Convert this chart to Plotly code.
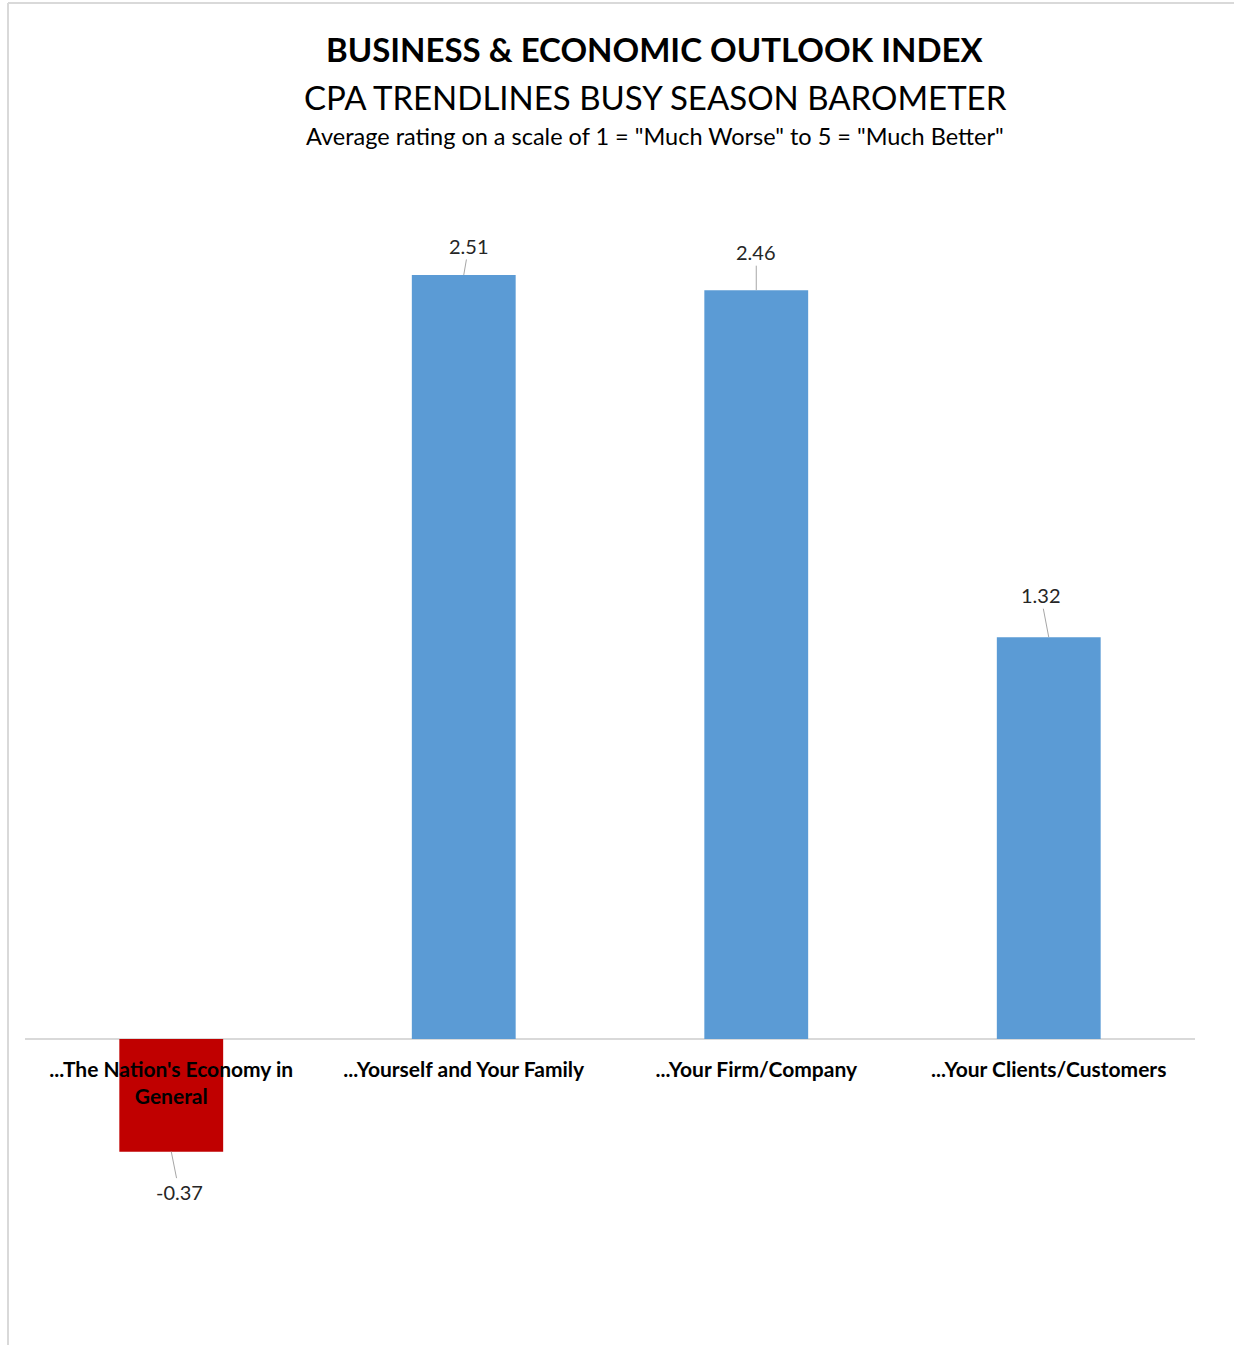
import plotly.graph_objects as go

categories = ["...The Nation's Economy in<br>General", "...Yourself and Your Family",
              "...Your Firm/Company", "...Your Clients/Customers"]
values = [-0.37, 2.51, 2.46, 1.32]
label_text = ["-0.37", "2.51", "2.46", "1.32"]
bar_colors = ["#c00000", "#5b9bd5", "#5b9bd5", "#5b9bd5"]
label_offsets = [(8, 40), (5, -29), (0, -38), (-8, -42)]

W, H = 1234, 1345
ML, MR, MT, MB = 25, 39, 180, 45
PW, PH = W - ML - MR, H - MT - MB

def px_x(px):
    return (px - ML) / PW

def px_y(py):
    return (H - MB - py) / PH

FONT = "Lato"

fig = go.Figure()
fig.add_trace(go.Bar(x=categories, y=values, marker=dict(color=bar_colors, line=dict(width=0)),
                     width=0.355, hoverinfo="skip"))

for c, v, t, (ax, ay) in zip(categories, values, label_text, label_offsets):
    fig.add_annotation(x=c, y=v, text=t, showarrow=True, arrowhead=0, arrowwidth=1,
                       arrowcolor="#a6a6a6", ax=ax, ay=ay, standoff=0,
                       font=dict(family=FONT, size=20, color="#262626"))

titles = [
    ("<b>BUSINESS &amp; ECONOMIC OUTLOOK INDEX</b>", 49, 33),
    ("CPA TRENDLINES BUSY SEASON BAROMETER", 97, 33),
    ("Average rating on a scale of 1 = \"Much Worse\" to 5 = \"Much Better\"", 136, 23.5),
]
for txt, py, sz in titles:
    fig.add_annotation(xref="paper", yref="paper", x=px_x(655), y=px_y(py), text=txt,
                       showarrow=False, xanchor="center", yanchor="middle",
                       font=dict(family=FONT, size=sz, color="#000000"))

# chart frame lines (left and top)
fig.add_shape(type="line", xref="paper", yref="paper", x0=px_x(8), x1=px_x(8),
              y0=px_y(3), y1=px_y(1345), line=dict(color="#d9d9d9", width=2))
fig.add_shape(type="line", xref="paper", yref="paper", x0=px_x(8), x1=px_x(1234),
              y0=px_y(3), y1=px_y(3), line=dict(color="#d9d9d9", width=2))

y_top = (1039 - MT) / 304.4
y_bot = -(H - MB - 1039) / 304.4

fig.update_layout(
    width=W, height=H, margin=dict(l=ML, r=MR, t=MT, b=MB),
    paper_bgcolor="white", plot_bgcolor="white", showlegend=False,
    xaxis=dict(anchor="free", position=px_y(1039), showline=False, showgrid=False,
               ticks="", ticklabelstandoff=16,
               tickfont=dict(family=FONT, size=21, color="#000000", weight="bold"),
               range=[-0.5, 3.5], fixedrange=True),
    yaxis=dict(range=[y_bot, y_top], showgrid=False, showticklabels=False, zeroline=True,
               zerolinecolor="#d9d9d9", zerolinewidth=1.5, showline=False),
)

fig.write_html("out.html")
